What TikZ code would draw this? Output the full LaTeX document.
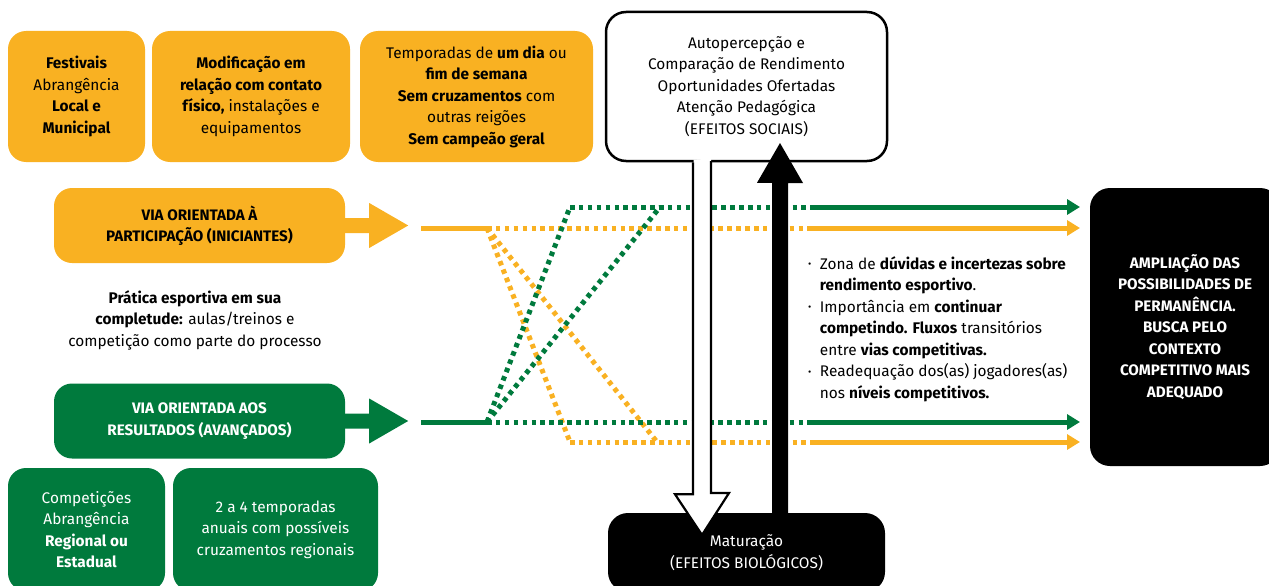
\documentclass[tikz,border=0pt]{standalone}
\usepackage{fontspec}
\setmainfont{Fira Sans}
\usetikzlibrary{arrows.meta}
\definecolor{cor}{HTML}{F9B122}
\definecolor{cgr}{HTML}{007A3D}
\begin{document}
\begin{tikzpicture}[x=1pt,y=-1pt,
  txt/.style={font=\fontsize{15.4}{21.5}\selectfont, align=center, inner sep=0pt},
  captxt/.style={font=\bfseries\fontsize{15.2}{21.5}\selectfont, align=center, inner sep=0pt},
  obox/.style={txt, fill=cor, rounded corners=18pt},
  gbox/.style={txt, fill=cgr, text=white, rounded corners=18pt},
  wbox/.style={txt, fill=white, draw=black, line width=2.5pt, rounded corners=20pt},
  bbox/.style={txt, fill=black, text=white, rounded corners=20pt},
  solidline/.style={line width=5pt},
  dotline/.style={line width=5pt, dash pattern=on 4.5pt off 4.4pt},
  tipped/.style={solidline, -{Triangle[length=13pt, width=15pt]}},
]
\useasboundingbox (0,0) rectangle (1269,586);
\clip (0,0) rectangle (1269,586);

% top orange boxes
\node[obox, minimum width=137pt, minimum height=131pt] (f1) at (76.5,96.5)
  {\textbf{Festivais}\\Abrangência\\\textbf{Local e}\\\textbf{Municipal}};
\node[obox, minimum width=198pt, minimum height=131pt] (f2) at (251,96.5)
  {\textbf{Modificação em}\\\textbf{relação com contato}\\\textbf{físico,} instalações e\\equipamentos};
\node[obox, minimum width=233pt, minimum height=131pt] (f3) at (476.5,96.5)
  {Temporadas de \textbf{um dia} ou\\\textbf{fim de semana}\\\textbf{Sem cruzamentos} com\\outras reigões\\\textbf{Sem campeão geral}};

% via boxes
\node[obox, captxt, minimum width=291pt, minimum height=75pt] (via1) at (199.5,225.5)
  {VIA ORIENTADA À\\PARTICIPAÇÃO (INICIANTES)};
\node[gbox, captxt, text=white, minimum width=291pt, minimum height=75pt] (via2) at (199.5,421)
  {VIA ORIENTADA AOS\\RESULTADOS (AVANÇADOS)};

\node[txt] (pratica) at (195,320)
  {\textbf{Prática esportiva em sua}\\\textbf{completude:} aulas/treinos e\\competição como parte do processo};

% bottom green boxes
\node[gbox, minimum width=157pt, minimum height=123pt] (g1) at (86.5,529.5)
  {Competições\\Abrangência\\\textbf{Regional ou}\\\textbf{Estadual}};
\node[gbox, minimum width=205pt, minimum height=123pt] (g2) at (275.5,529.5)
  {2 a 4 temporadas\\anuais com possíveis\\cruzamentos regionais};

% fat arrows from via boxes
\fill[cor] (via1.east) ++(0,-7.5) -- ++(24,0) -- ++(0,-15) -- ++(39,22.5) -- ++(-39,22.5) -- ++(0,-15) -- ++(-24,0) -- cycle;
\fill[cgr] (via2.east) ++(0,-7.5) -- ++(24,0) -- ++(0,-15) -- ++(39,22.5) -- ++(-39,22.5) -- ++(0,-15) -- ++(-24,0) -- cycle;

% route coordinates
\coordinate (os) at (421,228);
\coordinate (ob) at (487,228);
\coordinate (oe) at (811,228);
\coordinate (oa) at (1080,228);
\coordinate (gs) at (421,422);
\coordinate (gb) at (487,422);
\coordinate (ge) at (811,422);
\coordinate (ga) at (1080,422);
\coordinate (gt1) at (570,207);
\coordinate (gt2) at (660,207);
\coordinate (gte) at (811,207);
\coordinate (gta) at (1080,207);
\coordinate (ob1) at (570,442);
\coordinate (ob2) at (657,442);
\coordinate (obe) at (811,442);
\coordinate (oba) at (1080,442);

% orange routes
\draw[cor, solidline] (os) -- (ob);
\draw[cor, dotline] (ob) -- (oe);
\draw[cor, tipped] (oe) -- (oa);
\draw[cor, dotline] (ob) -- (ob1);
\draw[cor, dotline] (ob) -- (ob2);
\draw[cor, dotline] (ob1) -- (obe);
\draw[cor, tipped] (obe) -- (oba);
% green routes
\draw[cgr, solidline] (gs) -- (gb);
\draw[cgr, dotline] (gb) -- (ge);
\draw[cgr, tipped] (ge) -- (ga);
\draw[cgr, dotline] (gb) -- (gt1);
\draw[cgr, dotline] (gb) -- (gt2);
\draw[cgr, dotline] (gt1) -- (gte);
\draw[cgr, tipped] (gte) -- (gta);

% social box
\node[wbox, minimum width=281pt, minimum height=149pt] (social) at (746.5,86.5)
  {Autopercepção e\\Comparação de Rendimento\\Oportunidades Ofertadas\\Atenção Pedagógica\\(EFEITOS SOCIAIS)};

% maturation box
\node[bbox, minimum width=277pt, minimum height=79pt] (mat) at (746.5,552.5)
  {Maturação\\(EFEITOS BIOLÓGICOS)};

% result box
\node[bbox, captxt, text=white, minimum width=190pt, minimum height=278pt] (ampl) at (1185,327)
  {AMPLIAÇÃO DAS\\POSSIBILIDADES DE\\PERMANÊNCIA.\\BUSCA PELO\\CONTEXTO\\COMPETITIVO MAIS\\ADEQUADO};

% bullet list
\node[txt, align=left, anchor=north west] (zona) at (808,254)
  {\begin{tabular}{@{}l@{\hspace{8.5pt}}l@{}}
  \raisebox{1.5pt}{\fontsize{10}{10}\selectfont\textbullet} & Zona de \textbf{dúvidas e incertezas sobre}\\
   & \textbf{rendimento esportivo}.\\
  \raisebox{1.5pt}{\fontsize{10}{10}\selectfont\textbullet} & Importância em \textbf{continuar}\\
   & \textbf{competindo. Fluxos} transitórios\\
   & entre \textbf{vias competitivas.}\\
  \raisebox{1.5pt}{\fontsize{10}{10}\selectfont\textbullet} & Readequação dos(as) jogadores(as)\\
   & nos \textbf{níveis competitivos.}
  \end{tabular}};

% white hollow arrow (social -> maturation)
\coordinate (wx) at (702,0);
\coordinate (wtip) at (702,535);
\fill[white] (social.south -| wx) ++(-8.5,-2.5) -- ++(0,334.5) -- ++(-18,0) -- (wtip) -- ++(27,-42) -- ++(-18,0) -- ++(0,-334.5) -- cycle;
\draw[black, line width=2.2pt, line join=miter]
  (social.south -| wx) ++(-9,0) -- ++(0,332) -- ++(-18,0) -- (wtip) -- ++(27,-42) -- ++(-18,0) -- ++(0,-332);

% black arrow (maturation -> social)
\coordinate (bx) at (780,0);
\coordinate (btip) at (780,143);
\fill[black] (mat.north -| bx) ++(-8,0) -- ++(0,-330) -- ++(-15,0) -- (btip) -- ++(23,40) -- ++(-15,0) -- ++(0,330) -- cycle;
\end{tikzpicture}
\end{document}
